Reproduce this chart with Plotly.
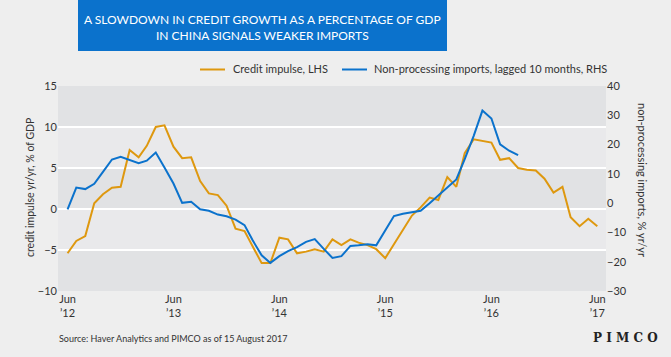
import plotly.graph_objects as go
import pandas as pd

# ---- data ----
months = pd.date_range("2012-06-01", "2017-06-01", freq="MS")

credit_impulse = [
    -5.4, -3.9, -3.3, 0.7, 1.8, 2.6, 2.7,                      # Jun-Dec 2012
    7.2, 6.3, 7.7, 10.0, 10.2, 7.6, 6.2, 6.3, 3.4, 1.9, 1.7, 0.4,   # 2013
    -2.4, -2.7, -4.6, -6.6, -6.6, -3.5, -3.7, -5.4, -5.2, -4.9, -5.2, -3.7,  # 2014
    -4.4, -3.7, -4.1, -4.4, -4.9, -6.0, -4.3, -2.5, -0.8, 0.2, 1.4, 1.1,     # 2015
    3.9, 2.7, 6.8, 8.5, 8.3, 8.1, 6.0, 6.2, 5.0, 4.8, 4.7, 3.7,   # 2016
    2.0, 2.7, -1.0, -2.1, -1.2, -2.1,                            # Jan-Jun 2017
]

non_processing_imports = [
    -2.1, 5.3, 4.8, 6.6, 10.7, 14.9, 15.8,                       # Jun-Dec 2012
    14.6, 13.6, 14.5, 17.3, 12.2, 6.7, 0.1, 0.5, -2.1, -2.6, -3.9, -4.5,   # 2013
    -5.6, -7.5, -12.7, -17.8, -20.4, -18.1, -16.4, -15.0, -13.2, -12.3, -15.6, -18.7,  # 2014
    -18.1, -14.6, -14.4, -14.0, -14.4, -9.5, -4.4, -3.6, -3.0, -2.6, 0.0, 2.7,  # 2015
    5.3, 8.1, 15.0, 23.0, 31.6, 28.9, 20.1, 17.9, 16.4,          # Jan-Sep 2016
]

tick_dates = ["2012-06-01", "2013-06-01", "2014-06-01", "2015-06-01", "2016-06-01", "2017-06-01"]
tick_text = ["Jun<br>\u201912", "Jun<br>\u201913", "Jun<br>\u201914", "Jun<br>\u201915", "Jun<br>\u201916", "Jun<br>\u201917"]

left_ticks = [-10, -5, 0, 5, 10, 15]
right_ticks = [-30, -20, -10, 0, 10, 20, 30, 40]
dark_bands = [(-10, -5), (0, 5), (10, 15)]

ORANGE = "#de980f"
BLUE = "#0b72cc"
TXT = "#333333"
FONT = "Lato"

W, H = 671, 357
ML, MR, MT, MB = 58, 65, 86, 66
PW, PH = W - ML - MR, H - MT - MB


def px(x):
    return (x - ML) / PW


def py(y):
    return (H - MB - y) / PH


fig = go.Figure()
fig.add_trace(go.Scatter(
    x=months[:len(credit_impulse)], y=credit_impulse, mode="lines",
    line=dict(color=ORANGE, width=2), name="Credit impulse, LHS", yaxis="y"))
fig.add_trace(go.Scatter(
    x=months[:len(non_processing_imports)], y=non_processing_imports, mode="lines",
    line=dict(color=BLUE, width=2), name="Non-processing imports, lagged 10 months, RHS", yaxis="y2"))

shapes = []
for a, b in dark_bands:
    shapes.append(dict(type="rect", xref="paper", yref="y", x0=0, x1=1, y0=a, y1=b,
                       fillcolor="#e1e2e4", line=dict(width=0), layer="below"))
# title box
shapes.append(dict(type="rect", xref="paper", yref="paper", x0=px(78), x1=px(447),
                   y0=py(51), y1=py(-2), fillcolor="#0b72cc", line=dict(width=0)))
# legend samples
shapes.append(dict(type="line", xref="paper", yref="paper", x0=px(200), x1=px(225),
                   y0=py(69.5), y1=py(69.5), line=dict(color=ORANGE, width=2)))
shapes.append(dict(type="line", xref="paper", yref="paper", x0=px(342), x1=px(367),
                   y0=py(69.5), y1=py(69.5), line=dict(color=BLUE, width=2)))

annotations = [
    dict(text="A SLOWDOWN IN CREDIT GROWTH AS A PERCENTAGE OF GDP", x=px(262), y=py(20),
         xref="paper", yref="paper", showarrow=False, xanchor="center", yanchor="middle",
         font=dict(family=FONT, size=12, color="white")),
    dict(text="IN CHINA SIGNALS WEAKER IMPORTS", x=px(262), y=py(35),
         xref="paper", yref="paper", showarrow=False, xanchor="center", yanchor="middle",
         font=dict(family=FONT, size=12, color="white")),
    dict(text="Credit impulse, LHS", x=px(231), y=py(69), xref="paper", yref="paper",
         showarrow=False, xanchor="left", yanchor="middle",
         font=dict(family=FONT, size=11, color=TXT)),
    dict(text="Non-processing imports, lagged 10 months, RHS", x=px(372), y=py(69),
         xref="paper", yref="paper", showarrow=False, xanchor="left", yanchor="middle",
         font=dict(family=FONT, size=11, color=TXT)),
    dict(text="credit impulse yr/yr, % of GDP", x=px(30), y=py(188), xref="paper", yref="paper",
         showarrow=False, xanchor="center", yanchor="middle", textangle=-90,
         font=dict(family=FONT, size=10.5, color=TXT)),
    dict(text="non-processing imports, % yr/yr", x=px(643), y=py(180), xref="paper", yref="paper",
         showarrow=False, xanchor="center", yanchor="middle", textangle=90,
         font=dict(family=FONT, size=11, color=TXT)),
    dict(text="Source: Haver Analytics and PIMCO as of 15 August 2017", x=px(57), y=py(338),
         xref="paper", yref="paper", showarrow=False, xanchor="left", yanchor="middle",
         font=dict(family=FONT, size=9, color=TXT)),
    dict(text="P I M C O", x=px(625), y=py(338), xref="paper", yref="paper",
         showarrow=False, xanchor="center", yanchor="middle",
         font=dict(family="DejaVu Serif", size=12, color="#222222", weight="bold")),
]

fig.update_layout(
    width=W, height=H,
    margin=dict(l=ML, r=MR, t=MT, b=MB, pad=0),
    paper_bgcolor="#eeeeee", plot_bgcolor="#e9e9eb",
    showlegend=False,
    font=dict(family=FONT, size=11, color=TXT),
    xaxis=dict(type="date", range=["2012-04-29", "2017-07-01"], tickvals=tick_dates,
               ticktext=tick_text, showgrid=False, zeroline=False, showline=False,
               ticks="", tickfont=dict(size=11, color=TXT)),
    yaxis=dict(range=[-10, 15], tickvals=left_ticks, showgrid=True, gridcolor="white",
               gridwidth=1.5, zeroline=False, showline=False, ticks="",
               tickfont=dict(size=11, color=TXT)),
    yaxis2=dict(range=[-30, 40], tickvals=right_ticks, overlaying="y", side="right",
                showgrid=False, zeroline=False, showline=False, ticks="",
                tickfont=dict(size=11, color=TXT)),
    shapes=shapes,
    annotations=annotations,
)

fig.write_html("out.html", config={"displayModeBar": False},
               post_script="document.body.style.margin='0';")
